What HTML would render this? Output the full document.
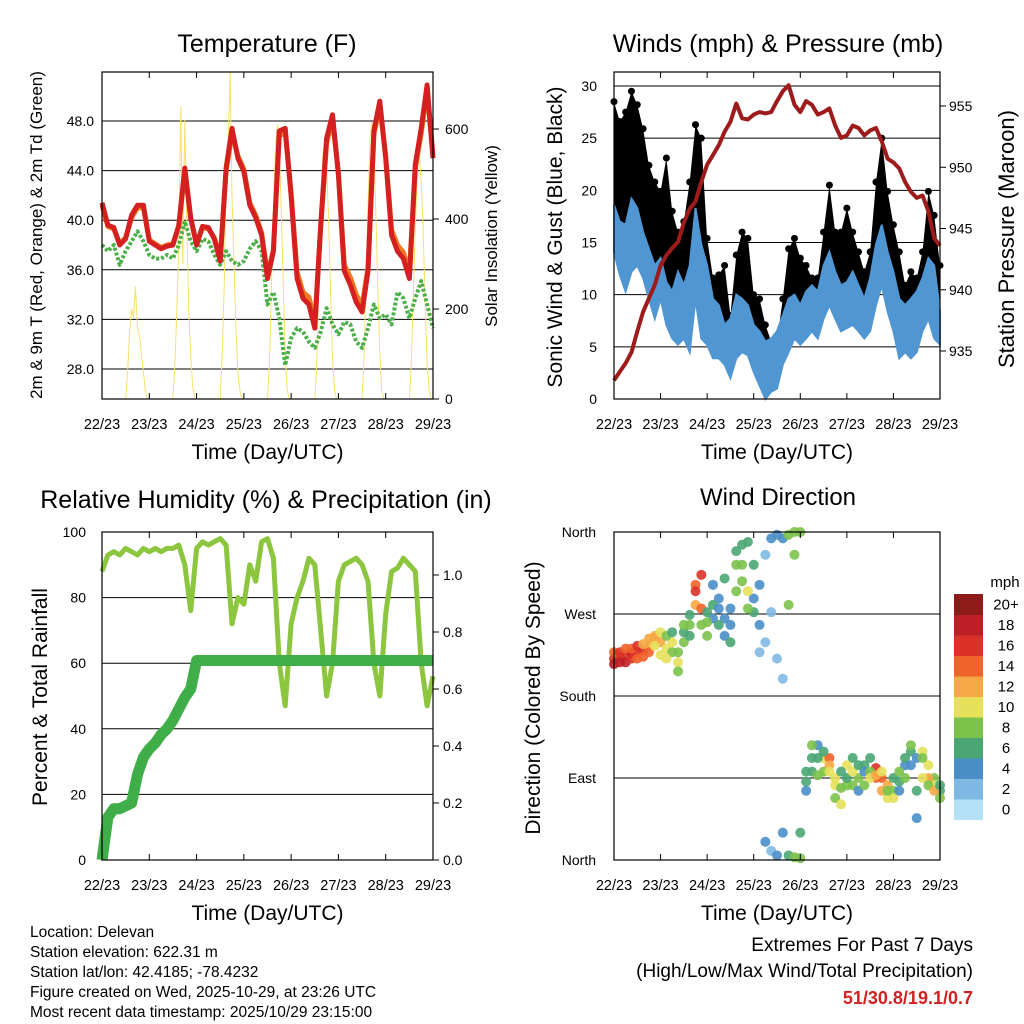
<!DOCTYPE html>
<html><head><meta charset="utf-8">
<style>
body{margin:0;background:#fff;}
svg{display:block;font-family:"Liberation Sans",Arial,sans-serif;}
</style></head>
<body>
<svg id="c" width="1024" height="1024" viewBox="0 0 1024 1024"></svg>
<script>
// ---------- DATA (3-hourly from 22/23 UTC) ----------
const dayLabels=["22/23","23/23","24/23","25/23","26/23","27/23","28/23","29/23"];
const temp2m=[41.4,39.6,39.4,38,38.5,40.4,41.2,41.2,38.3,38,37.7,37.9,38,39.6,44.2,40.2,38,39.5,39.4,38.5,36.7,44.2,47.4,45,43.9,41.2,40.2,38.8,35.3,37.5,47.2,47.4,42,35.3,33.7,33.2,31.3,39.6,46.6,48.5,43.7,35.9,34.8,33.4,32.6,35.9,47.2,49.6,45,38.8,37.5,36.9,35.3,44.5,47.4,50.9,45];
const temp9m=[41.2,39.5,39.3,38.1,38.6,40.2,41,41,38.4,38.1,37.8,38,38.1,39.5,44,40.1,38.1,39.4,39.3,38.6,36.9,44,47,45.2,44.1,41.4,40.4,39,35.6,37.6,46.8,47.1,42.2,35.8,34.2,33.8,31.8,39.4,46.2,48.1,43.8,36.4,35.4,34,33.1,36.2,46.9,49.2,45.2,39.2,38,37.4,35.8,44.2,47,50.5,45.2];
const dewpt=[38,37.5,38,36.4,37.5,38.3,39.1,38.3,37.2,36.9,36.9,37.2,36.9,38,39.9,38.3,37.5,38.5,38.3,37.2,36.4,37.5,36.7,36.4,36.7,37.7,38.3,37.5,33.2,34.2,32.1,28.3,30.5,31.3,31,30.2,29.7,31,32.9,31.6,30.8,31.8,31.6,30.2,29.7,31.3,33.2,32.1,32.4,31.6,34.2,33.7,32.1,33.7,35.1,33.2,31.3];
// hourly solar insolation (W/m2), from 22/23 UTC
const solar=[0,0,0,0,0,0,0,0,0,0,0,0,0,60,150,200,180,250,160,140,100,60,20,0,
0,0,0,0,0,0,0,0,0,0,0,0,0,80,200,350,650,300,620,400,200,100,30,0,
0,0,0,0,0,0,0,0,0,0,0,0,0,100,250,500,560,727,450,300,150,60,20,0,
0,0,0,0,0,0,0,0,0,0,0,0,0,80,250,420,560,610,560,420,250,100,20,0,
0,0,0,0,0,0,0,0,0,0,0,0,0,80,240,400,540,570,520,400,240,90,20,0,
0,0,0,0,0,0,0,0,0,0,0,0,0,90,260,430,580,615,560,410,250,100,20,0,
0,0,0,0,0,0,0,0,0,0,0,0,0,80,230,380,500,550,480,380,220,80,20,0];
const windHi=[18.6,17,16.7,19.2,18.3,16,14.4,12.8,13.5,11.2,10.3,12.2,10.9,12.8,18.3,14.8,12.8,9.6,9,7.1,7.7,10,9.6,9,7.1,6.5,5.5,5.8,6.5,8,9.6,10,9,10.3,10.9,10.3,12.8,14.1,12.2,10.9,11.2,12.2,10.9,9.6,11.6,14.8,16.7,14.1,12.2,9.6,9,9.6,10.3,11.6,13.5,12.8,8.4];
const windLo=[14.1,11.9,10.3,12.2,12.8,11.6,9.6,7.7,9.6,7.1,5.8,5.2,5.8,4.5,9.6,5.8,5.2,3.9,3.9,3.3,2,3.9,4.5,4.2,2.6,1.3,0,0.7,1,3.3,4.5,5.8,5.2,5.8,6.5,5.8,7.7,9,7.7,6.5,6.8,7.1,6.5,5.8,6.5,9,10.9,8.4,6.5,3.9,4.5,3.9,4.5,6.5,7.7,5.8,5.2];
const gust=[28.5,26.6,27.5,29.5,28.2,25.9,22.4,20.8,19.9,23.1,18,16,17,20.8,26.3,25,15.4,11.6,11.9,12.8,8,13.8,16,15.4,10,9.6,7.1,5.5,5.5,9.6,14.4,15.4,13.5,12.8,11.6,11.6,16,20.5,16,16,18.3,16,14.1,12.2,14.1,20.8,25,19.9,16.7,14.1,10.9,12.2,11.6,14.1,19.9,17.6,12.8];
const pressure=[932.6,933.3,934,934.9,936.6,938.2,939.3,940.4,942,942.8,943.4,943.9,945.5,946.6,947.2,948.8,950.2,951,951.8,952.9,953.7,955.2,954,953.9,954.3,954.5,954.4,954.5,955.4,956.2,956.7,955.1,954.5,955.4,955.1,954.3,954.5,954.8,953.4,952.4,952.6,953.4,953.2,952.6,953,953.2,952.1,950.7,950.4,949.9,948.8,948,947.5,947.7,946.4,944.2,943.6];
const rh=[88,93,94,93,95,94,93,95,94,95,94,95,95,96,90,76,95,97,96,97,98,96,72,80,78,90,85,97,98,92,60,47,72,80,85,92,90,70,50,60,85,90,91,92,90,85,60,50,75,88,89,92,90,88,60,47,56];
const precip=[0,0.15,0.18,0.18,0.19,0.2,0.3,0.36,0.39,0.41,0.44,0.46,0.49,0.53,0.57,0.6,0.7,0.7,0.7,0.7,0.7,0.7,0.7,0.7,0.7,0.7,0.7,0.7,0.7,0.7,0.7,0.7,0.7,0.7,0.7,0.7,0.7,0.7,0.7,0.7,0.7,0.7,0.7,0.7,0.7,0.7,0.7,0.7,0.7,0.7,0.7,0.7,0.7,0.7,0.7,0.7,0.7];
const dirA=[221,223,225,227,228,230,235,243,239,232,228,217,239,258,280,276,246,265,287,265,258,295,324,349,287,302,335,353,357,353,357,360,2,86,112,126,112,112,82,79,82,112,90,104,112,101,90,82,76,86,104,119,112,119,104,90,76];
const dirB=[215,217,217,221,221,223,243,246,225,221,239,207,250,269,302,313,261,302,258,246,239,324,346,295,272,258,20,10,5,30,5,3,360,76,126,112,97,104,68,61,104,82,76,97,97,90,76,68,68,76,112,126,46,112,90,82,68];
const dirC=[228,228,232,232,235,237,228,235,250,246,250,228,258,246,295,258,272,280,276,309,276,339,306,276,324,228,239,272,221,199,280,335,30,97,97,93,119,97,90,97,90,97,104,82,90,93,97,76,90,97,90,104,76,90,82,76,82];
const spdA=[16,16,16,18,16,16,12,12,12,10,8,10,8,8,12,14,8,4,4,4,4,8,8,6,4,4,2,4,4,4,8,8,8,6,6,4,10,14,10,8,8,6,8,6,6,16,14,12,8,6,4,6,4,10,10,8,6];
const spdB=[18,18,18,16,14,14,12,12,10,10,10,8,6,6,14,16,8,4,6,4,6,8,6,10,6,4,4,2,4,4,6,8,8,4,8,6,8,12,8,10,10,8,4,4,8,14,12,10,10,4,6,8,4,8,12,10,8];
const spdC=[14,16,14,14,16,12,14,10,10,8,6,8,8,6,16,8,6,6,4,6,4,6,8,8,6,2,2,2,2,2,8,8,6,6,6,8,6,10,10,6,6,10,6,8,10,12,10,8,6,8,8,4,6,10,8,12,6];
const spdColors=["#b3e0f5","#7fb9e3","#4a8ec8","#4aa673","#7bc24a","#e6e05a","#f5a845","#f0632a","#dc3128","#be1e26","#8e1a1a"];
const spdLabels=["0","2","4","6","8","10","12","14","16","18","20+"];
const dirLabels=["North","West","South","East","North"];
const dirTicks=[360,270,180,90,0];

// ---------- helpers ----------
const NS="http://www.w3.org/2000/svg";
const svg=document.getElementById('c');
function el(tag,attrs,parent){const e=document.createElementNS(NS,tag);for(const k in attrs)e.setAttribute(k,attrs[k]);(parent||svg).appendChild(e);return e;}
function txt(s,x,y,size,anchor,parent,extra){const t=el('text',Object.assign({x:x,y:y,'font-size':size,'text-anchor':anchor||'middle',fill:'#000'},extra||{}),parent);t.textContent=s;return t;}
function lin(d0,d1,r0,r1){return v=>r0+(v-d0)/(d1-d0)*(r1-r0);}
function pathOf(xs,ys){let d='';for(let i=0;i<xs.length;i++)d+=(i?'L':'M')+xs[i].toFixed(1)+','+ys[i].toFixed(1);return d;}

function frame(g,x0,x1,y0,y1,xScale){
  const r=el('rect',{x:x0,y:y0,width:x1-x0,height:y1-y0,fill:'none',stroke:'#000','stroke-width':1.2},g);
  
  
  for(let d=0;d<=7;d++){
    const x=xScale(d*24);
    el('line',{x1:x,x2:x,y1:y1,y2:y1-6,stroke:'#000'},g);
    el('line',{x1:x,x2:x,y1:y0,y2:y0+6,stroke:'#000'},g);
    const t=txt(dayLabels[d],x,y1+30,14.5,'middle',g);
    
    
  }
  const xt=txt('Time (Day/UTC)',(x0+x1)/2,y1+60,21,'middle',g);
  
  
}
function hgrid(g,x0,x1,y){el('line',{x1:x0,x2:x1,y1:y,y2:y,stroke:'#000','stroke-width':1},g);}
function vtitle(s,x,y,size,g){const t=txt(s,x,y,size,'middle',g,{transform:'rotate(-90 '+x+' '+y+')'});return t;}

const t3=[];for(let i=0;i<57;i++)t3.push(i*3);
const th=[];for(let i=0;i<solar.length;i++)th.push(i);

// ---------- Temperature panel ----------
(function(){
  const g=el('g',{});
  
  
  const X=lin(0,168,102,433), Y=lin(28,48,369,121), S=lin(0,600,399,129);
  [28,32,36,40,44,48].forEach(v=>{hgrid(g,102,433,Y(v));const t=txt(v.toFixed(1),94,Y(v)+5,14,'end',g);});
  [0,200,400,600].forEach(v=>{el('line',{x1:433,x2:439,y1:S(v),y2:S(v),stroke:'#000'},g);const t=txt(String(v),445,S(v)+5,14,'start',g);});
  const sp=el('path',{d:pathOf(th.map(X),solar.map(S)),fill:'none',stroke:'#f7e06a','stroke-width':1},g);
  
  
  const dp=el('path',{d:pathOf(t3.map(X),dewpt.map(Y)),fill:'none',stroke:'#4cb04a','stroke-width':4,'stroke-dasharray':'3 2','stroke-linejoin':'round'},g);
  
  
  const o=el('path',{d:pathOf(t3.map(X),temp9m.map(Y)),fill:'none',stroke:'#f07a22','stroke-width':5,'stroke-linejoin':'round'},g);
  
  
  const r=el('path',{d:pathOf(t3.map(X),temp2m.map(Y)),fill:'none',stroke:'#d42020','stroke-width':5,'stroke-linejoin':'round'},g);
  
  
  frame(g,102,433,72,399,X);
  const tt=txt('Temperature (F)',267,52,25,'middle',g);
  const a=vtitle('2m & 9m T (Red, Orange) & 2m Td (Green)',42,235,17,g);
  const b=vtitle('Solar Insolation (Yellow)',497,236,17,g);
})();

// ---------- Winds panel ----------
(function(){
  const g=el('g',{});
  
  
  const X=lin(0,168,614,940), Y=lin(0,30,399,86), P=lin(935,955,351,106);
  [5,10,15,20,25,30].forEach(v=>hgrid(g,614,940,Y(v)));
  hgrid(g,614,940,Y(0));
  [0,5,10,15,20,25,30].forEach(v=>{const t=txt(String(v),597,Y(v)+5,14,'end',g);});
  [935,940,945,950,955].forEach(v=>{el('line',{x1:940,x2:946,y1:P(v),y2:P(v),stroke:'#000'},g);const t=txt(String(v),949,P(v)+5,14,'start',g);});
  const gx=t3.map(X);
  const band=el('path',{d:pathOf(gx,gust.map(Y))+pathOf(gx.slice().reverse(),windHi.slice().reverse().map(Y)).replace('M','L')+'Z',fill:'#000'},g);
  
  
  gust.forEach((v,i)=>{const c=el('circle',{cx:gx[i],cy:Y(v),r:3.5,fill:'#000'},g);
    
    });
  const wb=el('path',{d:pathOf(gx,windHi.map(Y))+pathOf(gx.slice().reverse(),windLo.slice().reverse().map(Y)).replace('M','L')+'Z',fill:'#4f96d2',stroke:'#4f96d2','stroke-width':2},g);
  
  
  const pl=el('path',{d:pathOf(gx,pressure.map(P)),fill:'none',stroke:'#9e1b1b','stroke-width':4,'stroke-linejoin':'round'},g);
  
  
  frame(g,614,940,72,399,X);
  const tt=txt('Winds (mph) & Pressure (mb)',778,52,25,'middle',g);
  const a=vtitle('Sonic Wind & Gust (Blue, Black)',562,237,21,g);
  const b=vtitle('Station Pressure (Maroon)',1014,239,22,g);
})();

// ---------- RH panel ----------
(function(){
  const g=el('g',{});
  
  
  const X=lin(0,168,102,433), Y=lin(0,100,860,532), R=lin(0,1,860,575);
  [20,40,60,80].forEach(v=>hgrid(g,102,433,Y(v)));
  [0,20,40,60,80,100].forEach(v=>{const t=txt(String(v),86,Y(v)+5,14,'end',g);});
  [0,0.2,0.4,0.6,0.8,1.0].forEach(v=>{el('line',{x1:433,x2:439,y1:R(v),y2:R(v),stroke:'#000'},g);const t=txt(v.toFixed(1),443,R(v)+5,14,'start',g);});
  const rl=el('path',{d:pathOf(t3.map(X),rh.map(Y)),fill:'none',stroke:'#8cc63f','stroke-width':5,'stroke-linejoin':'round'},g);
  
  
  const pr=el('path',{d:pathOf(t3.map(X),precip.map(R)),fill:'none',stroke:'#3fae49','stroke-width':11,'stroke-linejoin':'round'},g);
  
  
  frame(g,102,433,532,860,X);
  const tt=txt('Relative Humidity (%) & Precipitation (in)',266,508,25,'middle',g);
  const a=vtitle('Percent & Total Rainfall',47,697,21,g);
})();

// ---------- Wind direction panel ----------
(function(){
  const g=el('g',{});
  
  
  const X=lin(0,168,614,940), Y=lin(0,360,860,532);
  dirTicks.forEach((v,i)=>{hgrid(g,614,940,Y(v));const t=txt(dirLabels[i],596,Y(v)+5,14,'end',g);});
  [[dirA,spdA],[dirB,spdB],[dirC,spdC]].forEach(pair=>{
    pair[0].forEach((d,i)=>{
      const col=spdColors[Math.min(10,Math.floor(pair[1][i]/2))];
      const c=el('circle',{cx:X(t3[i]),cy:Y(d),r:5,fill:col,opacity:0.9},g);
      
      
    });
  });
  frame(g,614,940,532,860,X);
  const tt=txt('Wind Direction',778,505,24,'middle',g);
  const a=vtitle('Direction (Colored By Speed)',540,698,21,g);
  // colorbar
  const cb=el('g',{},g);
  
  
  const bh=20.5;
  for(let k=0;k<11;k++){
    const yy=594+(10-k)*bh;
    const r=el('rect',{x:954,y:yy,width:29,height:bh+0.5,fill:spdColors[k]},cb);
    
    
    const t=txt(spdLabels[k],1006,yy+bh/2+5,15,'middle',cb);
    
    
  }
  const m=txt('mph',1005,587,15,'middle',cb);
})();

// ---------- footer text ----------
const info=["Location: Delevan","Station elevation: 622.31 m","Station lat/lon: 42.4185; -78.4232","Figure created on Wed, 2025-10-29, at 23:26 UTC","Most recent data timestamp: 2025/10/29 23:15:00"];
info.forEach((s,i)=>{const t=txt(s,30,937+i*20,15.5,'start');});
const e1=txt('Extremes For Past 7 Days',973,951,19,'end');
const e2=txt('(High/Low/Max Wind/Total Precipitation)',973,977,19,'end');
const e3=txt('51/30.8/19.1/0.7',973,1004,18,'end',null,{fill:'#d42020','font-weight':'bold'});
</script>
</body></html>
